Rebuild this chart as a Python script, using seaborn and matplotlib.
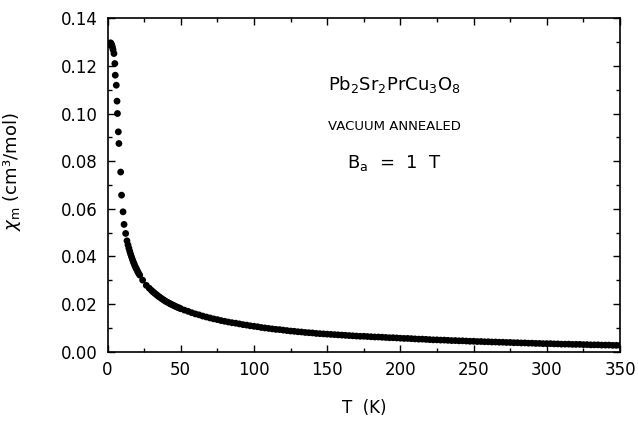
import matplotlib
matplotlib.use("Agg")
import matplotlib.pyplot as plt
from matplotlib.ticker import MultipleLocator, FormatStrFormatter
import seaborn as sns
import pandas as pd

# Temperature (K)
T_low = [1.5, 1.8, 2.1, 2.4, 2.7, 3.0, 3.4, 3.8, 4.4, 5.0, 5.3, 6.0, 6.5, 6.8,
         7.4, 7.8, 9.0, 9.6, 10.6, 11.3, 12.4, 13.3]
chi_low = [0.1290, 0.1295, 0.1297, 0.1294, 0.1290, 0.1285, 0.1278, 0.1268,
           0.1252, 0.1210, 0.1161, 0.1119, 0.1052, 0.1000, 0.0923, 0.0874,
           0.0754, 0.0657, 0.0587, 0.0534, 0.0496, 0.0465]

T_mid = [14.0, 14.6, 15.2, 15.8, 16.4, 17.0, 17.6, 18.2, 18.8, 19.4, 20.0, 20.6,
         21.2, 22.0, 24.0, 26.5, 28.5, 30, 31, 32, 33, 34, 35, 36, 37, 38, 39,
         40, 41, 42, 43, 44, 45, 46, 47, 48, 49]
chi_mid = [0.0448, 0.0434, 0.0421, 0.0409, 0.0398, 0.0387, 0.0377, 0.0368,
           0.0359, 0.0351, 0.0344, 0.0336, 0.0329, 0.0321, 0.0300, 0.0278,
           0.0266, 0.0257, 0.0251, 0.0246, 0.0241, 0.0236, 0.0231, 0.0227,
           0.0222, 0.0218, 0.0214, 0.0210, 0.0207, 0.0203, 0.0200, 0.0197,
           0.0194, 0.0191, 0.0188, 0.0185, 0.0183]

T_high = [50.0, 52.5, 55.0, 57.5, 60.0, 62.5, 65.0, 67.5, 70.0, 72.5, 75.0, 77.5,
          80.0, 82.5, 85.0, 87.5, 90.0, 92.5, 95.0, 97.5, 100.0, 102.5, 105.0,
          107.5, 110.0, 112.5, 115.0, 117.5, 120.0, 122.5, 125.0, 127.5, 130.0,
          132.5, 135.0, 137.5, 140.0, 142.5, 145.0, 147.5, 150.0, 152.5, 155.0,
          157.5, 160.0, 162.5, 165.0, 167.5, 170.0, 172.5, 175.0, 177.5, 180.0,
          182.5, 185.0, 187.5, 190.0, 192.5, 195.0, 197.5, 200.0, 202.5, 205.0,
          207.5, 210.0, 212.5, 215.0, 217.5, 220.0, 222.5, 225.0, 227.5, 230.0,
          232.5, 235.0, 237.5, 240.0, 242.5, 245.0, 247.5, 250.0, 252.5, 255.0,
          257.5, 260.0, 262.5, 265.0, 267.5, 270.0, 272.5, 275.0, 277.5, 280.0,
          282.5, 285.0, 287.5, 290.0, 292.5, 295.0, 297.5, 300.0, 302.5, 305.0,
          307.5, 310.0, 312.5, 315.0, 317.5, 320.0, 322.5, 325.0, 327.5, 330.0,
          332.5, 335.0, 337.5, 340.0, 342.5, 345.0, 347.5, 350.0]
chi_high = [0.0180, 0.0174, 0.0169, 0.0163, 0.0158, 0.0154, 0.0149, 0.0145,
            0.0141, 0.0137, 0.0134, 0.0130, 0.0127, 0.0124, 0.0121, 0.0119,
            0.0116, 0.0113, 0.0111, 0.0108, 0.0106, 0.0104, 0.0101, 0.0099,
            0.0097, 0.0095, 0.0093, 0.0092, 0.0090, 0.0088, 0.0086, 0.0085,
            0.0083, 0.0082, 0.0080, 0.0079, 0.0078, 0.0076, 0.0075, 0.0074,
            0.0073, 0.0072, 0.0071, 0.0070, 0.0069, 0.0068, 0.0067, 0.0066,
            0.0065, 0.0064, 0.0064, 0.0063, 0.0062, 0.0061, 0.0061, 0.0060,
            0.0059, 0.0058, 0.0058, 0.0057, 0.0056, 0.0055, 0.0055, 0.0054,
            0.0053, 0.0052, 0.0052, 0.0051, 0.0050, 0.0049, 0.0049, 0.0048,
            0.0048, 0.0047, 0.0046, 0.0046, 0.0045, 0.0045, 0.0044, 0.0043,
            0.0043, 0.0042, 0.0042, 0.0041, 0.0041, 0.0040, 0.0040, 0.0039,
            0.0039, 0.0038, 0.0038, 0.0037, 0.0037, 0.0036, 0.0036, 0.0035,
            0.0035, 0.0034, 0.0034, 0.0033, 0.0033, 0.0033, 0.0032, 0.0032,
            0.0031, 0.0031, 0.0031, 0.0030, 0.0030, 0.0030, 0.0029, 0.0029,
            0.0028, 0.0028, 0.0028, 0.0027, 0.0027, 0.0027, 0.0026, 0.0026,
            0.0026]

df = pd.DataFrame({"T": T_low + T_mid + T_high,
                   "chi": chi_low + chi_mid + chi_high})

sns.set_theme(style="ticks")
plt.rcParams["font.family"] = ["DejaVu Sans"]
plt.rcParams["mathtext.fontset"] = "dejavusans"
plt.rcParams["text.color"] = "black"
plt.rcParams["axes.labelcolor"] = "black"

fig = plt.figure(figsize=(6.38, 4.23), dpi=100)
ax = fig.add_axes([0.1685, 0.169, 0.8033, 0.7877])

sns.scatterplot(data=df, x="T", y="chi", ax=ax, color="black", s=24,
                edgecolor="none", linewidth=0, legend=False)

ax.set_xlim(0, 350)
ax.set_ylim(0, 0.14)
ax.xaxis.set_major_locator(MultipleLocator(50))
ax.xaxis.set_minor_locator(MultipleLocator(25))
ax.yaxis.set_major_locator(MultipleLocator(0.02))
ax.yaxis.set_minor_locator(MultipleLocator(0.01))
ax.yaxis.set_major_formatter(FormatStrFormatter("%.2f"))
ax.tick_params(which="both", direction="in", top=True, right=True,
               labelsize=12, colors="black", labelcolor="black", width=1.0)
ax.tick_params(which="major", length=5, pad=7)
ax.tick_params(which="minor", length=3)
for sp in ax.spines.values():
    sp.set_linewidth(1.2)
    sp.set_color("black")

ax.set_xlabel("T  (K)", fontsize=12, labelpad=14, color="black")
ax.set_ylabel(r"$\chi_{\mathregular{m}}$ (cm³/mol)", fontsize=13, labelpad=10,
              color="black")
ax.yaxis.set_label_coords(-0.165, 0.54)

ax.text(0.56, 0.80, r"$\mathregular{Pb_2Sr_2PrCu_3O_8}$", transform=ax.transAxes,
        ha="center", va="center", fontsize=13, color="black")
ax.text(0.56, 0.675, "VACUUM ANNEALED", transform=ax.transAxes,
        ha="center", va="center", fontsize=9.5, color="black")
ax.text(0.56, 0.565, r"$\mathregular{B_a}$  =  1  T", transform=ax.transAxes,
        ha="center", va="center", fontsize=13, color="black")

fig.savefig("out.png", dpi=100)
